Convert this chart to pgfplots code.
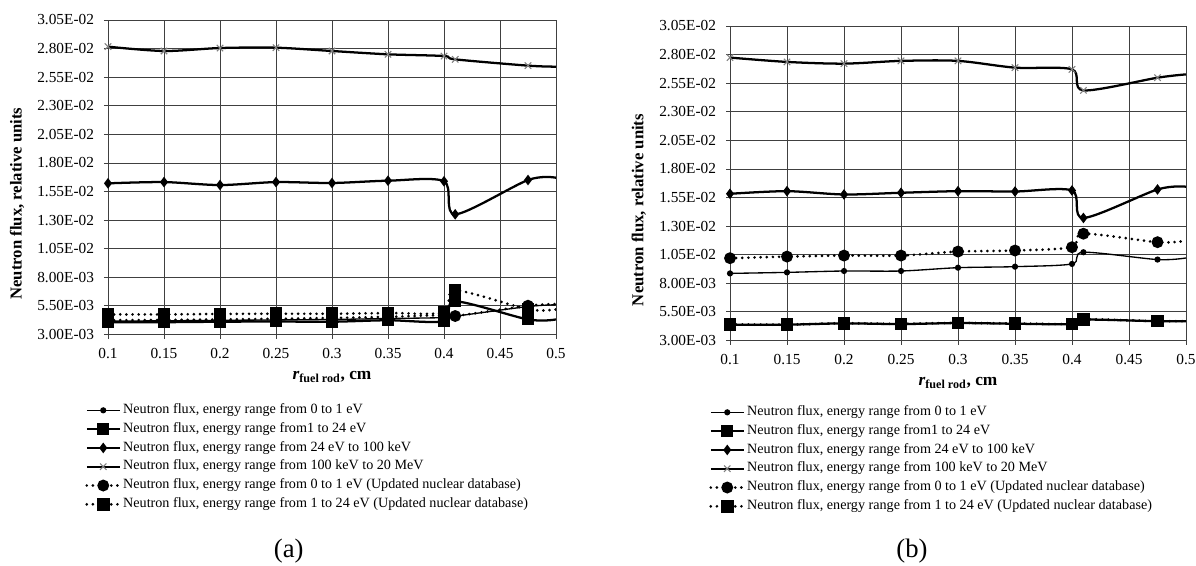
\documentclass[border=0pt]{standalone}
\usepackage{fontspec}
\setmainfont{Liberation Serif}
\usepackage{pgfplots}
\usepackage{pgfplotstable}
\pgfplotsset{compat=1.18}

% panel (a)
\pgfplotstableread{
x     s1      s2      s3      s4      s5      s6
0.1   0.00418 0.00408 0.01622 0.02817 0.00425 0.00476
0.15  0.00420 0.00408 0.01633 0.02779 0.00428 0.00476
0.2   0.00424 0.00412 0.01607 0.02805 0.00432 0.00480
0.25  0.00428 0.00414 0.01633 0.02808 0.00438 0.00482
0.3   0.00432 0.00412 0.01625 0.02779 0.00445 0.00482
0.35  0.00440 0.00425 0.01645 0.02750 0.00455 0.00488
0.4   0.00448 0.00418 0.01640 0.02735 0.00470 0.00495
0.41  0.00460 0.00590 0.01351 0.02706 0.00462 0.00685
0.475 0.00545 0.00432 0.01651 0.02651 0.00552 0.00521
0.5   0.00560 0.00432 0.01671 0.02642 0.00566 0.00520
}\dataA

% panel (b)
\pgfplotstableread{
x     s1      s2      s3      s4      s5      s6
0.1   0.00887 0.00439 0.01583 0.02774 0.01020 0.00441
0.15  0.00896 0.00439 0.01606 0.02736 0.01034 0.00440
0.2   0.00908 0.00450 0.01577 0.02721 0.01043 0.00451
0.25  0.00908 0.00444 0.01592 0.02745 0.01043 0.00446
0.3   0.00937 0.00453 0.01606 0.02745 0.01078 0.00454
0.35  0.00946 0.00447 0.01603 0.02686 0.01087 0.00449
0.4   0.00970 0.00444 0.01612 0.02671 0.01116 0.00446
0.41  0.01072 0.00483 0.01372 0.02487 0.01234 0.00485
0.475 0.01008 0.00469 0.01621 0.02598 0.01160 0.00470
0.5   0.01022 0.00469 0.01645 0.02627 0.01172 0.00470
}\dataB

\pgfplotsset{
  fluxaxis/.style={
    scale only axis,
    xmin=0.1, xmax=0.5, ymin=0.003, ymax=0.0305,
    xtick={0.1,0.15,0.2,0.25,0.3,0.35,0.4,0.45,0.5},
    xticklabels={0.1,0.15,0.2,0.25,0.3,0.35,0.4,0.45,0.5},
    ytick={0.003,0.0055,0.008,0.0105,0.013,0.0155,0.018,0.0205,0.023,0.0255,0.028,0.0305},
    yticklabels={3.00E-03,5.50E-03,8.00E-03,1.05E-02,1.30E-02,1.55E-02,1.80E-02,2.05E-02,2.30E-02,2.55E-02,2.80E-02,3.05E-02},
    scaled y ticks=false, scaled x ticks=false,
    grid=major, grid style={black!75, line width=0.7pt},
    axis line style={black!75, line width=0.7pt},
    tick align=outside, tick pos=left, major tick length=3pt,
    tick style={black!75, line width=0.7pt},
    yticklabel style={font=\fontsize{11.5}{13}\selectfont, xshift=-4pt},
    xticklabel style={font=\fontsize{11.5}{13}\selectfont, yshift=-4pt},
    ylabel={Neutron flux, relative units},
    ylabel style={font=\bfseries\fontsize{12.5}{14}\selectfont, anchor=center},
    xlabel={{\bfseries\itshape r}\textsubscript{\bfseries fuel rod}\textbf{, cm}},
    xlabel style={font=\fontsize{13}{15}\selectfont, at={(axis description cs:0.5,-0.134)}, anchor=center},
    legend cell align=left,
    legend style={draw=none, fill=none, inner sep=0pt,
      font=\fontsize{10.6}{12}\selectfont, row sep=0pt, column sep=0pt,
      nodes={inner ysep=2pt, inner xsep=1.5pt, text height=7.5pt, text depth=2.6pt}},
    legend image code/.code={%
      \draw[##1, mark=none] (0cm,0cm) -- (0.87cm,0cm);
      \draw[##1] plot coordinates {(0.435cm,0cm)};},
  },
  sA/.style={black, line width=1pt, smooth, mark=*, mark size=1.8pt, mark indices={1,2,3,4,5,6,7,8,9}},
  sB/.style={black, line width=1.7pt, smooth, mark=square*, mark size=3.6pt, mark indices={1,2,3,4,5,6,7,8,9}},
  sC/.style={black, line width=1.7pt, smooth, mark=diamond*, mark size=2.6pt, mark indices={1,2,3,4,5,6,7,8,9}},
  sD/.style={black, line width=1.7pt, smooth, mark=x, mark size=3.4pt, mark options={black!50, line width=0.8pt}, mark indices={1,2,3,4,5,6,7,8,9}},
  sE/.style={black, line width=2.2pt, smooth, dash pattern=on 0pt off 4.6pt, line cap=round, mark=*, mark size=3.3pt, mark options={solid}, mark indices={1,2,3,4,5,6,7,8,9}},
  sF/.style={black, line width=2.2pt, smooth, dash pattern=on 0pt off 4.6pt, line cap=round, mark=square*, mark size=3.6pt, mark options={solid}, mark indices={1,2,3,4,5,6,7,8,9}},
}

\begin{document}
\begin{tikzpicture}
\path[use as bounding box] (0pt,0pt) rectangle (897pt,-423.75pt);

\begin{axis}[fluxaxis,
  at={(81pt,-15pt)}, anchor=north west,
  width=336pt, height=235.9pt,
  ylabel style={at={(axis description cs:-0.203,0.4165)}},
  legend style={at={(axis description cs:-0.0513,-0.2102)}, anchor=north west}]
\addplot[sA] table[x=x,y=s1] {\dataA};
\addlegendentry{Neutron flux, energy range from 0 to 1 eV}
\addplot[sB] table[x=x,y=s2] {\dataA};
\addlegendentry{Neutron flux, energy range from1 to 24 eV}
\addplot[sC] table[x=x,y=s3] {\dataA};
\addlegendentry{Neutron flux, energy range from 24 eV to 100 keV}
\addplot[sD] table[x=x,y=s4] {\dataA};
\addlegendentry{Neutron flux, energy range from 100 keV to 20 MeV}
\addplot[sE] table[x=x,y=s5] {\dataA};
\addlegendentry{Neutron flux, energy range from 0 to 1 eV (Updated nuclear database)}
\addplot[sF] table[x=x,y=s6] {\dataA};
\addlegendentry{Neutron flux, energy range from 1 to 24 eV (Updated nuclear database)}
\end{axis}

\begin{axis}[fluxaxis,
  at={(547.5pt,-19.5pt)}, anchor=north west,
  width=342pt, height=235.9pt,
  ylabel style={at={(axis description cs:-0.2,0.415)}},
  legend style={at={(axis description cs:-0.046,-0.1975)}, anchor=north west}]
\addplot[sA] table[x=x,y=s1] {\dataB};
\addlegendentry{Neutron flux, energy range from 0 to 1 eV}
\addplot[sB] table[x=x,y=s2] {\dataB};
\addlegendentry{Neutron flux, energy range from1 to 24 eV}
\addplot[sC] table[x=x,y=s3] {\dataB};
\addlegendentry{Neutron flux, energy range from 24 eV to 100 keV}
\addplot[sD] table[x=x,y=s4] {\dataB};
\addlegendentry{Neutron flux, energy range from 100 keV to 20 MeV}
\addplot[sE] table[x=x,y=s5] {\dataB};
\addlegendentry{Neutron flux, energy range from 0 to 1 eV (Updated nuclear database)}
\addplot[sF] table[x=x,y=s6] {\dataB};
\addlegendentry{Neutron flux, energy range from 1 to 24 eV (Updated nuclear database)}
\end{axis}

\node[font=\fontsize{20}{22}\selectfont] at (216.5pt,-413.6pt) {(a)};
\node[font=\fontsize{20}{22}\selectfont] at (684pt,-413.6pt) {(b)};
\end{tikzpicture}
\end{document}
